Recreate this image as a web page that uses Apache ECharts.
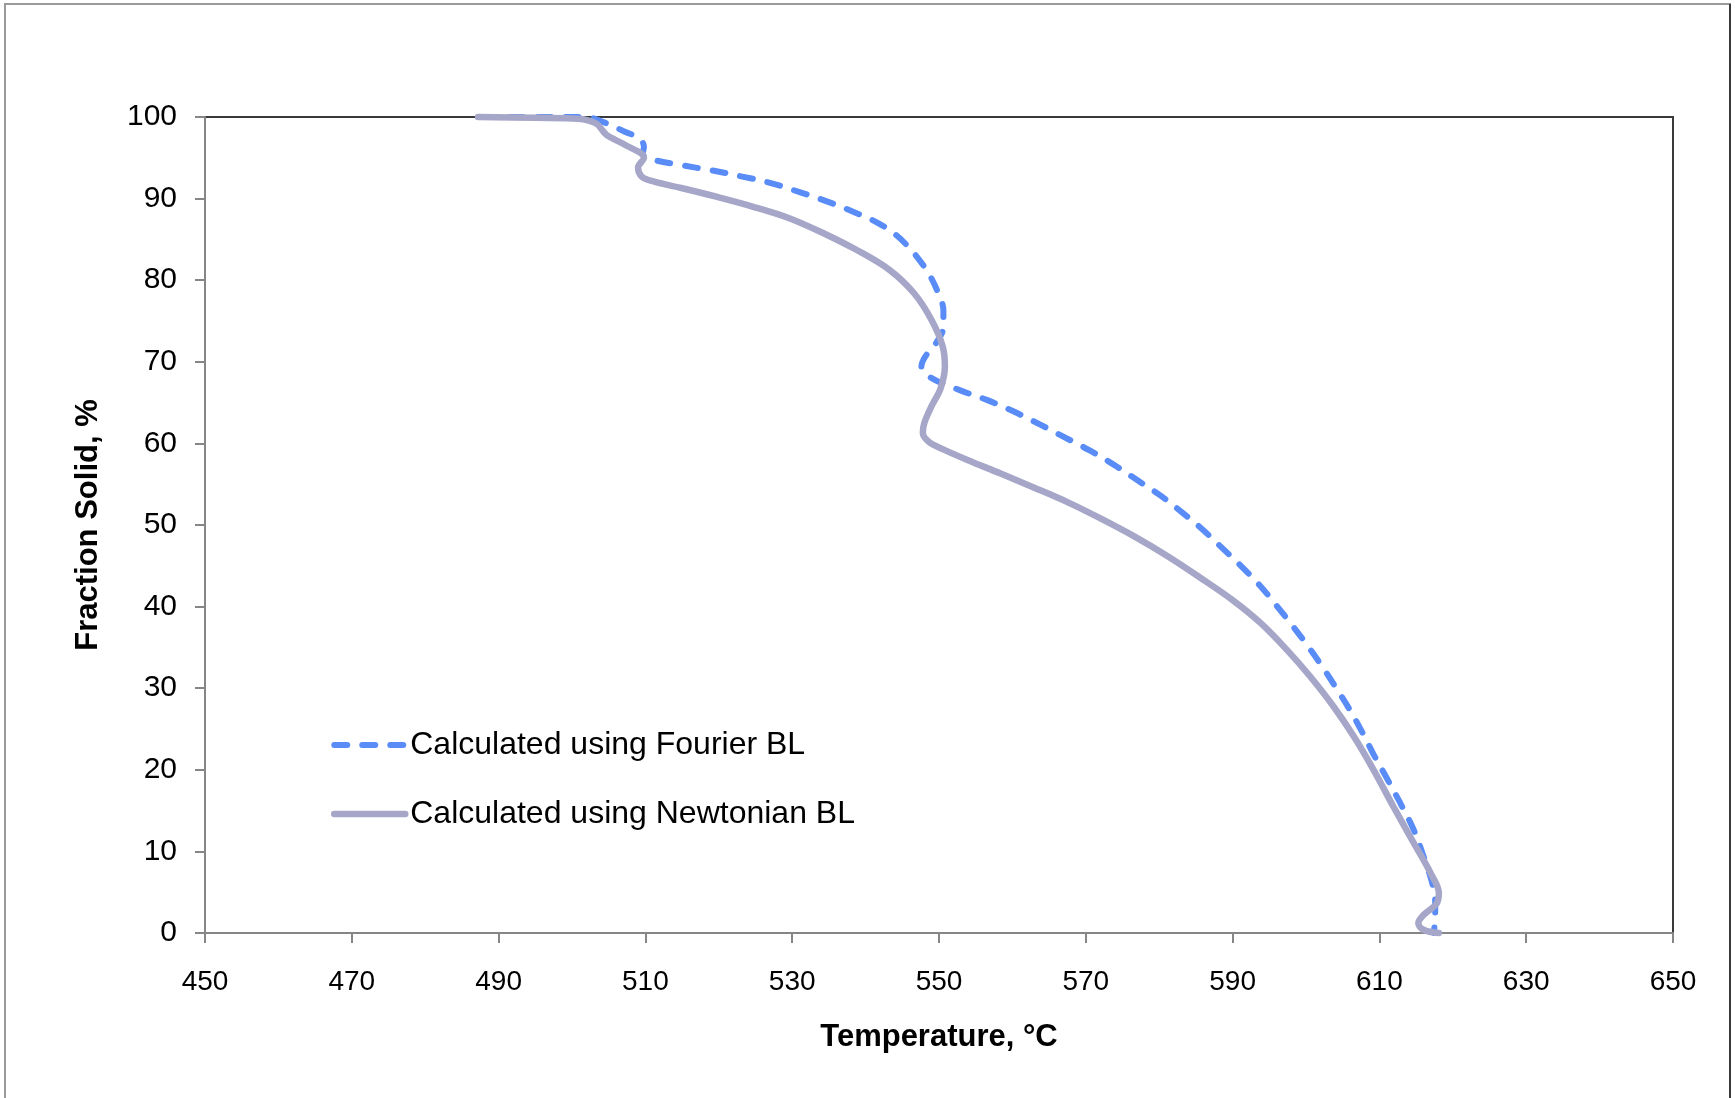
<!DOCTYPE html>
<html>
<head>
<meta charset="utf-8">
<script src="https://cdn.jsdelivr.net/npm/echarts@6/dist/echarts.min.js"></script>
<style>html,body{margin:0;padding:0;background:#fff;}#chart{width:1735px;height:1098px;}</style>
</head>
<body>
<div id="chart"></div>
<script>
const xTicks = { min: 450, max: 650, interval: 20 };
const yTicks = { min: 0, max: 100, interval: 10 };
const seriesNames = ['Calculated using Fourier BL', 'Calculated using Newtonian BL'];

const fourierT = [487.7,495,501.8,504.2,507.2,509.3,509.8,509.6,511.0,514.9,518.8,523.2,527.1,531.0,534.9,538.3,541.7,544.2,546.6,548.6,549.9,550.6,550.6,549.6,548.1,547.6,548.8,552.9,556.6,560.2,563.8,567.0,570.6,573.8,577.0,580.2,582.9,585.6,588.2,591.0,593.8,596.0,598.3,600.3,602.4,604.2,606.0,607.6,609.2,611.0,612.8,614.7,616.2,617.2,617.6,617.6,617.4];
const fourierFS = [100,100,100,99.4,98.2,97.3,96.3,95.5,94.8,94.1,93.5,92.7,91.9,90.8,89.6,88.4,87.0,85.5,83.3,80.8,78.4,76.3,74.3,72.3,70.6,69.4,68.1,66.5,65.3,63.9,62.3,60.8,59.1,57.4,55.5,53.6,51.7,49.7,47.5,45.1,42.5,40.1,37.5,35.1,32.4,29.9,27.3,24.7,21.9,19.0,16.0,12.6,8.9,6.1,4.0,2.0,0];

const newtonT = [487.2,495,500.8,503.3,504.7,507.2,509.8,509.0,509.5,511.1,514.9,519.8,524.7,529.6,534.4,538.8,543.2,546.6,549.0,550.5,550.8,550.2,549.0,548.0,547.8,548.6,550.5,553.8,558.4,562.9,567.5,572.0,576.6,581.1,585.5,590.0,593.8,597.4,600.6,603.8,606.5,609.2,611.9,614.7,617.0,618.1,617.8,616.0,615.3,616.0,618.1];
const newtonFS = [100,99.9,99.8,99.2,97.8,96.6,95.0,93.8,92.7,92.1,91.3,90.2,89.0,87.6,85.7,83.7,81.3,78.4,75.1,71.9,69.4,66.7,64.6,62.5,61.3,60.2,59.3,58.0,56.3,54.6,52.8,50.8,48.6,46.2,43.6,40.8,38.0,34.7,31.4,27.7,24.1,20.0,15.5,11.0,7.3,4.9,3.6,2.2,1.2,0.4,0];

const pair = (xs, ys) => xs.map((x, i) => [x, ys[i]]);
const FONT = '"Liberation Sans", Arial, sans-serif';
const BLUE = '#5a8cf8';
const GRAY = '#a6a6c9';

const chart = echarts.init(document.getElementById('chart'), null, { renderer: 'canvas' });
chart.setOption({
  backgroundColor: '#ffffff',
  animation: false,
  graphic: [
    { type: 'rect', silent: true, z: 100, shape: { x: 5, y: 4, width: 1725, height: 1200 },
      style: { fill: 'none', stroke: '#9a9a9a', lineWidth: 2 } },
    { type: 'line', silent: true, z: 101, shape: { x1: 1730, y1: 4, x2: 1730, y2: 1098 },
      style: { stroke: '#3a3a3a', lineWidth: 2 } }
  ],
  grid: { left: 205, top: 117, right: 62, bottom: 165, show: true, borderColor: '#3a3a3a', borderWidth: 2, backgroundColor: 'transparent' },
  legend: {
    orient: 'vertical', left: 326, top: 724, itemGap: 37, itemWidth: 71, itemHeight: 14,
    data: [
      { name: seriesNames[0], lineStyle: { width: 6, color: BLUE, type: [13, 15], cap: 'round' } },
      { name: seriesNames[1], lineStyle: { width: 6.5, color: GRAY, cap: 'round' } }
    ],
    itemStyle: { opacity: 0 },
    textStyle: { fontFamily: FONT, fontSize: 32, color: '#000' }
  },
  xAxis: {
    type: 'value', min: xTicks.min, max: xTicks.max, interval: xTicks.interval,
    name: 'Temperature, °C', nameLocation: 'middle', nameGap: 89,
    nameTextStyle: { fontFamily: FONT, fontSize: 31, fontWeight: 'bold', color: '#000' },
    axisLine: { show: true, lineStyle: { color: '#868686', width: 2 } },
    axisTick: { show: true, inside: false, length: 10, lineStyle: { color: '#868686', width: 2 } },
    axisLabel: { fontFamily: FONT, fontSize: 28, color: '#000', margin: 35 },
    splitLine: { show: false }
  },
  yAxis: {
    type: 'value', min: yTicks.min, max: yTicks.max, interval: yTicks.interval,
    name: 'Fraction Solid, %', nameLocation: 'middle', nameGap: 101, nameRotate: 90,
    nameTextStyle: { fontFamily: FONT, fontSize: 31, fontWeight: 'bold', color: '#000' },
    axisLine: { show: true, lineStyle: { color: '#868686', width: 2 } },
    axisTick: { show: true, inside: false, length: 10, lineStyle: { color: '#868686', width: 2 } },
    axisLabel: { fontFamily: FONT, fontSize: 30, color: '#000', margin: 28 },
    splitLine: { show: false }
  },
  series: [
    { name: seriesNames[0], type: 'line', data: pair(fourierT, fourierFS), smooth: 0.35,
      symbol: 'none', clip: false,
      lineStyle: { color: BLUE, width: 6, type: [13, 15], cap: 'round', join: 'round' },
      itemStyle: { color: BLUE } },
    { name: seriesNames[1], type: 'line', data: pair(newtonT, newtonFS), smooth: 0.35,
      symbol: 'none', clip: false,
      lineStyle: { color: GRAY, width: 6.5, cap: 'round', join: 'round' },
      itemStyle: { color: GRAY } }
  ]
});
</script>
</body>
</html>
